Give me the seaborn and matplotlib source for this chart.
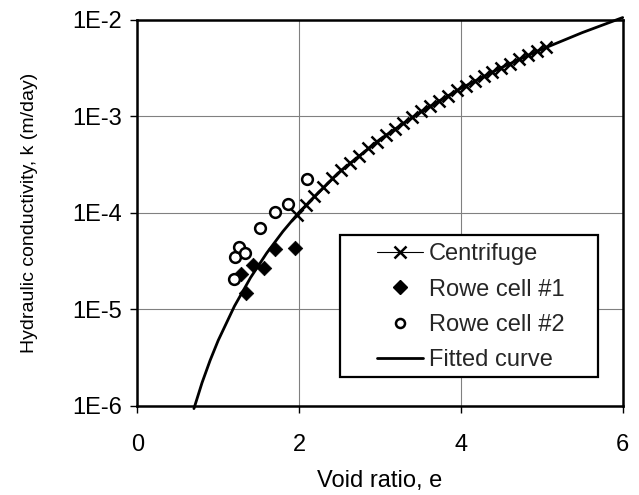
import numpy as np
import pandas as pd
import matplotlib
matplotlib.use("Agg")
import matplotlib.pyplot as plt
from matplotlib.lines import Line2D
from matplotlib.patches import Rectangle
from matplotlib.ticker import FixedLocator, FixedFormatter, NullLocator
import seaborn as sns

# ---------------- data ----------------
centrifuge_e = [1.97, 2.08, 2.19, 2.30, 2.41, 2.52, 2.63, 2.74, 2.85, 2.96,
                3.07, 3.18, 3.29, 3.40, 3.51, 3.62, 3.73, 3.84, 3.95, 4.06,
                4.17, 4.28, 4.39, 4.50, 4.61, 4.72, 4.83, 4.94, 5.05]
centrifuge_k = [9.54e-5, 1.21e-4, 1.51e-4, 1.86e-4, 2.28e-4, 2.76e-4, 3.31e-4,
                3.94e-4, 4.66e-4, 5.48e-4, 6.40e-4, 7.43e-4, 8.58e-4, 9.86e-4,
                1.13e-3, 1.28e-3, 1.46e-3, 1.65e-3, 1.86e-3, 2.08e-3, 2.33e-3,
                2.60e-3, 2.89e-3, 3.21e-3, 3.54e-3, 3.91e-3, 4.31e-3, 4.73e-3,
                5.19e-3]

rowe1_e = [1.280, 1.338, 1.432, 1.564, 1.700, 1.951]
rowe1_k = [2.33e-5, 1.47e-5, 2.89e-5, 2.67e-5, 4.21e-5, 4.31e-5]

rowe2_e = [1.194, 1.210, 1.259, 1.333, 1.515, 1.696, 1.857, 2.099]
rowe2_k = [2.07e-5, 3.52e-5, 4.48e-5, 3.82e-5, 7.05e-5, 1.02e-4, 1.23e-4, 2.23e-4]

fit_e = [0.70, 0.80, 0.90, 1.00, 1.20, 1.40, 1.60, 1.80, 2.00, 2.50, 3.00,
         3.50, 4.00, 4.50, 5.00, 5.50, 6.00]
fit_k = [9.4e-7, 1.74e-6, 2.97e-6, 4.78e-6, 1.08e-5, 2.14e-5, 3.85e-5,
         6.44e-5, 1.02e-4, 2.67e-4, 5.80e-4, 1.11e-3, 1.96e-3, 3.21e-3,
         4.97e-3, 7.40e-3, 1.06e-2]

x_ticks = [0, 2, 4, 6]
y_ticks = [1e-6, 1e-5, 1e-4, 1e-3, 1e-2]
y_tick_labels = ["1E-6", "1E-5", "1E-4", "1E-3", "1E-2"]
series_labels = ["Centrifuge", "Rowe cell #1", "Rowe cell #2", "Fitted curve"]

# ---------------- style ----------------
sns.set_style("white")
plt.rcParams["font.family"] = ["Liberation Sans", "DejaVu Sans"]

fig = plt.figure(figsize=(6.39, 4.95), dpi=100)
ax = fig.add_axes([0.21487, 0.17980, 0.75962, 0.77980])

# fitted curve
sns.lineplot(x=fit_e, y=fit_k, ax=ax, color="black", lw=2.0, sort=False,
             zorder=3, clip_on=False)
# centrifuge data
sns.lineplot(x=centrifuge_e, y=centrifuge_k, ax=ax, color="black", lw=0.8,
             marker="x", markersize=8.5, markeredgewidth=1.8,
             markeredgecolor="black", sort=False, zorder=4)
# Rowe cell #1
sns.scatterplot(x=rowe1_e, y=rowe1_k, ax=ax, marker="D", s=55, color="black",
                edgecolor="black", linewidth=0.5, zorder=5)
# Rowe cell #2
sns.scatterplot(x=rowe2_e, y=rowe2_k, ax=ax, marker="o", s=60, color="white",
                edgecolor="black", linewidth=1.8, zorder=5)

ax.set_yscale("log")
ax.set_xlim(0, 6)
ax.set_ylim(1e-6, 1e-2)
ax.xaxis.set_major_locator(FixedLocator(x_ticks))
ax.yaxis.set_major_locator(FixedLocator(y_ticks))
ax.yaxis.set_major_formatter(FixedFormatter(y_tick_labels))
ax.yaxis.set_minor_locator(NullLocator())
ax.xaxis.set_minor_locator(NullLocator())

ax.grid(True, which="major", color="#808080", lw=0.8)
ax.set_axisbelow(True)

for sp in ax.spines.values():
    sp.set_visible(True)
    sp.set_color("black")
    sp.set_linewidth(1.8)

ax.tick_params(axis="both", which="major", direction="out", length=5,
               width=1, color="black", labelsize=17, labelcolor="black",
               bottom=True, left=True, top=False, right=False)
ax.tick_params(axis="x", pad=15)
ax.tick_params(axis="y", pad=6)

ax.set_xlabel("Void ratio, e", fontsize=17, color="black")
ax.set_ylabel("Hydraulic conductivity, k (m/day)", fontsize=14, color="black")
ax.xaxis.set_label_coords(0.5, -0.166)
ax.yaxis.set_label_coords(-0.205, 0.5)

# legend frame + legend
frame = Rectangle((0.4176, 0.0751), 0.5314, 0.3679, transform=ax.transAxes,
                  facecolor="white", edgecolor="black", lw=1.6, zorder=6)
ax.add_patch(frame)

handles = [
    Line2D([], [], color="black", lw=0.8, marker="x", ms=8, mew=1.8),
    Line2D([], [], ls="none", marker="D", color="black", ms=7),
    Line2D([], [], ls="none", marker="o", mfc="white", mec="black", ms=6.5, mew=1.8),
    Line2D([], [], color="black", lw=2.0),
]
leg = ax.legend(handles, series_labels, loc="upper left",
                bbox_to_anchor=(0.493, 0.421), frameon=False, fontsize=17,
                labelspacing=0.56, handlelength=1.95, handletextpad=0.25,
                borderpad=0, borderaxespad=0)
leg.set_zorder(7)

fig.savefig("out.png", dpi=100)
